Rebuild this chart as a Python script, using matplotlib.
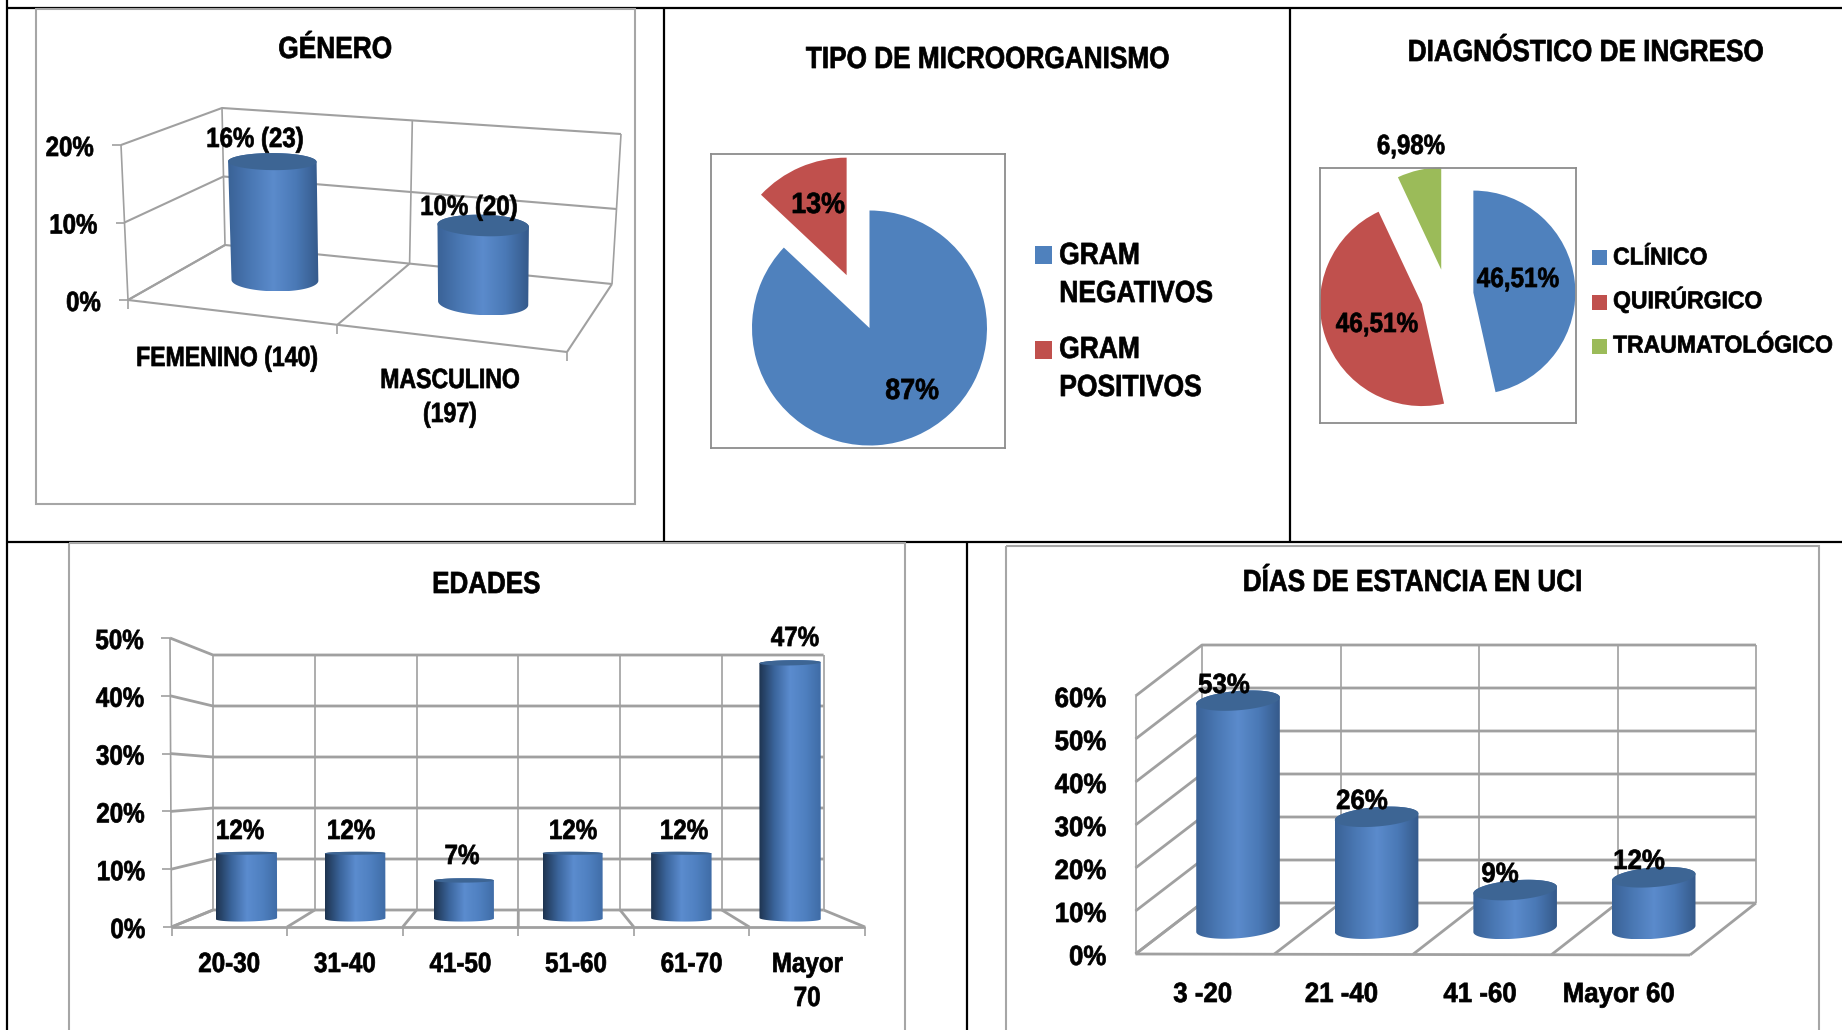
import numpy as np
import matplotlib
matplotlib.use('Agg')
import matplotlib.pyplot as plt
from matplotlib.colors import LinearSegmentedColormap
from matplotlib.patches import Polygon, Rectangle
from matplotlib.patheffects import AbstractPathEffect
from matplotlib.transforms import Affine2D

plt.rcParams['font.family'] = ['Liberation Sans', 'DejaVu Sans']
plt.rcParams['font.weight'] = 'bold'

W, H = 1842, 1030

# data
genero_cats = ['FEMENINO (140)', 'MASCULINO\n(197)']
genero_vals = [16, 10]
genero_labels = ['16% (23)', '10% (20)']
genero_ticks = [0, 10, 20]

edades_cats = ['20-30', '31-40', '41-50', '51-60', '61-70', 'Mayor\n70']
edades_vals = [12, 12, 7, 12, 12, 47]
edades_labels = ['12%', '12%', '7%', '12%', '12%', '47%']
edades_ticks = [0, 10, 20, 30, 40, 50]

dias_cats = ['3 -20', '21 -40', '41 -60', 'Mayor 60']
dias_vals = [53, 26, 9, 12]
dias_labels = ['53%', '26%', '9%', '12%']
dias_ticks = [0, 10, 20, 30, 40, 50, 60]

micro_names = ['GRAM\nNEGATIVOS', 'GRAM\nPOSITIVOS']
micro_vals = [87, 13]
micro_labels = ['87%', '13%']

diag_names = ['CLÍNICO', 'QUIRÚRGICO', 'TRAUMATOLÓGICO']
diag_vals = [46.51, 46.51, 6.98]
diag_labels = ['46,51%', '46,51%', '6,98%']

blue, red, green = '#4f81bd', '#c0504d', '#9bbb59'
grid = '#a0a0a0'

fig = plt.figure(figsize=(W / 100, H / 100), dpi=100)
ax = fig.add_axes([0, 0, 1, 1], zorder=2)
ax.set_xlim(0, W)
ax.set_ylim(H, 0)
ax.axis('off')


class Narrow(AbstractPathEffect):
    # the reference uses a condensed face, so squeeze the glyphs sideways
    def __init__(self, sx, anchor):
        super().__init__()
        self.sx = sx
        self.anchor = anchor

    def draw_path(self, renderer, gc, tpath, affine, rgbFace=None):
        ext = tpath.get_extents()
        cx = {'left': ext.x0, 'center': (ext.x0 + ext.x1) / 2, 'right': ext.x1}[self.anchor]
        tr = Affine2D().translate(-cx, 0).scale(self.sx, 1).translate(cx, 0) + affine
        gc0 = renderer.new_gc()
        gc0.copy_properties(gc)
        gc0.set_foreground('black')
        gc0.set_linewidth(0.5)
        renderer.draw_path(gc0, tpath, tr, rgbFace)
        gc0.restore()


def make_proj(fl, fr, bl, br, tfl, tfr, tbl, tbr, vmax, warp=1.0):
    # floor and top corners of the 3D box in figure pixels
    fl, fr, bl, br = map(np.array, (fl, fr, bl, br))
    tfl, tfr, tbl, tbr = map(np.array, (tfl, tfr, tbl, tbr))

    def proj(u, d, v):
        u, d, v = np.asarray(u, float), np.asarray(d, float), np.asarray(v, float)
        u, d, v = u[..., None] ** warp, d[..., None], v[..., None] / vmax
        floor = (fl * (1 - u) + fr * u) * (1 - d) + (bl * (1 - u) + br * u) * d
        top = (tfl * (1 - u) + tfr * u) * (1 - d) + (tbl * (1 - u) + tbr * u) * d
        return floor * (1 - v) + top * v
    return proj


def seg(pts, lw=1.5):
    pts = np.array(pts)
    ax.plot(pts[:, 0], pts[:, 1], color=grid, lw=lw, solid_capstyle='butt', zorder=2)


def walls(proj, ncat, ticks, tick_len=0, lw=1.5):
    vmax = ticks[-1]
    for v in ticks:
        seg([proj(0, 0, v), proj(0, 1, v), proj(1, 1, v)], lw)
        if tick_len:
            p = proj(0, 0, v)
            seg([p, p - [tick_len, 0]], 1.2)
    for k in range(ncat + 1):
        u = k / ncat
        seg([proj(u, 1, 0), proj(u, 1, vmax)], 1.2)
        seg([proj(u, 0, 0), proj(u, 1, 0)], lw)
        if tick_len:
            p = proj(u, 0, 0)
            seg([p, p + [0, tick_len]], 1.2)
    seg([proj(0, 0, 0), proj(1, 0, 0)], lw)
    seg([proj(0, 0, 0), proj(0, 0, vmax)], 1.2)


def cylinder(proj, i, ncat, val, ru, rd, dc, colors, top_color):
    t = np.linspace(0, 2 * np.pi, 181)
    uc = (i + 0.5) / ncat
    bottom = proj(uc + ru * np.cos(t), dc + rd * np.sin(t), np.zeros_like(t))
    top = proj(uc + ru * np.cos(t), dc + rd * np.sin(t), np.full_like(t, val))

    # lower arc of the base and upper arc of the lid make the outline
    def arc(e, lower):
        a, b = e[:-1, 0].argmin(), e[:-1, 0].argmax()
        n = (b - a) % 180
        one = e[(a + np.arange(n + 1)) % 180]
        two = e[(b + np.arange(180 - n + 1)) % 180][::-1]
        if (one[:, 1].mean() > two[:, 1].mean()) == lower:
            return one
        return two
    low = arc(bottom, True)
    up = arc(top, False)
    body = np.vstack([low, up[::-1]])
    patch = Polygon(body, closed=True, fc='none', ec='none', zorder=3)
    ax.add_patch(patch)
    cmap = LinearSegmentedColormap.from_list('cyl', colors)
    im = ax.imshow(np.linspace(0, 1, 128)[None, :], cmap=cmap, aspect='auto', zorder=3,
                   extent=[body[:, 0].min(), body[:, 0].max(), body[:, 1].max(), body[:, 1].min()])
    im.set_clip_path(patch)
    ax.add_patch(Polygon(top, closed=True, fc=top_color, ec='none', zorder=4))
    ax.set_xlim(0, W)
    ax.set_ylim(H, 0)


def txt(x, y, s, size, sx=0.87, ha='center', va='center', **kw):
    if va == 'center':
        y = y + 3
    ax.text(x, y, s, fontsize=size, ha=ha, va=va, color='black', zorder=6,
            path_effects=[Narrow(sx, ha)], **kw)


def bar_chart(proj, cats, vals, ticks, labels, label_pos, ru, rd, colors, top_color,
              tick_len, tick_dx, cat_y, cat_dx, size, sx, cat_sx, lw, dc=0.5):
    walls(proj, len(cats), ticks, tick_len, lw)
    for i, v in enumerate(vals):
        cylinder(proj, i, len(cats), v, ru, rd, dc, colors, top_color)
        txt(label_pos[i][0], label_pos[i][1], labels[i], size, sx)
    for v in ticks:
        p = proj(0, 0, v)
        txt(p[0] - tick_dx, p[1] + 1, '%d%%' % v, size, sx, ha='right')
    for i, c in enumerate(cats):
        p = proj((i + 0.5) / len(cats), 0, 0)
        y = cat_y[i] if len(cat_y) > 1 else cat_y[0]
        txt(p[0] + cat_dx, y, c, size, cat_sx, va='top', linespacing=1.4)


# panel rules and frames
for x0, y0, x1, y1 in [(7, 8, W, 8), (7, 542, W, 542), (7, 0, 7, H), (664, 8, 664, 542),
                       (1290, 8, 1290, 542), (967, 542, 967, H)]:
    ax.plot([x0, x1], [y0, y1], color='black', lw=1.6, solid_capstyle='butt', zorder=1)
for x0, y0, x1, y1 in [(36, 9, 635, 504), (69, 543, 905, H + 10), (1006, 546, 1819, H + 10)]:
    ax.add_patch(Rectangle((x0, y0), x1 - x0, y1 - y0, fc='none', ec='#a6a6a6', lw=1.5, zorder=1))

cyl_light = ['#3a6296', '#4a78b4', '#5b8bcc', '#4a79b6', '#355a8b']
cyl_dark = ['#1e3450', '#3b659c', '#5b8ccf', '#4f80c0', '#3f6ca6']
lid = '#3d6594'

# GENERO
p1 = make_proj((128, 300), (567, 352), (225, 245), (612, 284),
               (121, 145), (560, 184), (222, 108), (621, 134), genero_ticks[-1], warp=1.068)
bar_chart(p1, genero_cats, genero_vals, genero_ticks, genero_labels, [(255, 137), (469, 205)],
          0.102, 0.18, cyl_light, lid, 9, 27, [346, 368], -1, 20, 0.865, 0.83, 1.5, dc=0.55)

# EDADES
p3 = make_proj((171.5, 927), (865, 927), (213, 910), (823.6, 910),
               (170, 638), (865, 638), (213, 655), (823.6, 655), edades_ticks[-1])
bar_chart(p3, edades_cats, edades_vals, edades_ticks, edades_labels,
          [(240, 829), (351, 829), (462, 854), (573, 829), (684, 829), (795, 636)],
          0.046, 0.18, cyl_dark, lid, 9, 26, [952], 0, 20, 0.87, 0.87, 2.0)

# DIAS
p4 = make_proj((1135.5, 954), (1690, 955), (1202, 903), (1756, 903),
               (1135.5, 696), (1690, 696), (1202, 645), (1756, 645), dias_ticks[-1])
bar_chart(p4, dias_cats, dias_vals, dias_ticks, dias_labels,
          [(1224, 683), (1362, 799), (1500, 872), (1639, 859)],
          0.0715, 0.2, cyl_light, lid, 0, 29, [982], -2, 20, 0.93, 0.93, 2.0)


def pie_axes(frame, center, r, vals, explode, colors):
    x0, y0, x1, y1 = frame
    pa = fig.add_axes([x0 / W, 1 - y1 / H, (x1 - x0) / W, (y1 - y0) / H], zorder=1)
    pa.pie(vals, explode=explode, colors=colors, startangle=90, counterclock=False,
           wedgeprops={'linewidth': 0}, frame=True)
    pa.set_xlim((x0 - center[0]) / r, (x1 - center[0]) / r)
    pa.set_ylim((center[1] - y1) / r, (center[1] - y0) / r)
    pa.set_xticks([])
    pa.set_yticks([])
    for s in pa.spines.values():
        s.set_color('#8c8c8c')
        s.set_linewidth(1.3)
    return pa


# TIPO DE MICROORGANISMO
pie_axes((711, 154, 1005, 448), (869.5, 328), 117.5, micro_vals, [0, 0.49], [blue, red])
txt(912, 388, micro_labels[0], 21, 0.92)
txt(818, 202, micro_labels[1], 21, 0.92)
for name, c, sy, ty in zip(micro_names, [blue, red], [245.5, 341], [272, 366]):
    ax.add_patch(Rectangle((1035, sy), 17, 18, fc=c, ec='none', zorder=5))
    txt(1059, ty, name, 22, 0.865, ha='left', linespacing=1.35)

# DIAGNOSTICO DE INGRESO
pie_axes((1320, 168, 1576, 423), (1447, 295.5), 102, diag_vals, [0.26, 0.26, 0.26], [blue, red, green])
txt(1518, 277, diag_labels[0], 20, 0.875)
txt(1377, 322, diag_labels[1], 20, 0.875)
txt(1411, 144, diag_labels[2], 20, 0.865)
for name, c, sy, ty in zip(diag_names, [blue, red, green], [250, 294.5, 338.5], [255, 297, 343]):
    ax.add_patch(Rectangle((1592, sy), 15, 15, fc=c, ec='none', zorder=5))
    txt(1613, ty, name, 17.5, 0.945, ha='left')

# titles
txt(335, 47, 'GÉNERO', 22, 0.86)
txt(987, 57, 'TIPO DE MICROORGANISMO', 22, 0.857)
txt(1585, 50, 'DIAGNÓSTICO DE INGRESO', 22, 0.856)
txt(486, 582, 'EDADES', 22, 0.85)
txt(1412, 580, 'DÍAS DE ESTANCIA EN UCI', 22, 0.855)

fig.savefig('out.png', dpi=100)
